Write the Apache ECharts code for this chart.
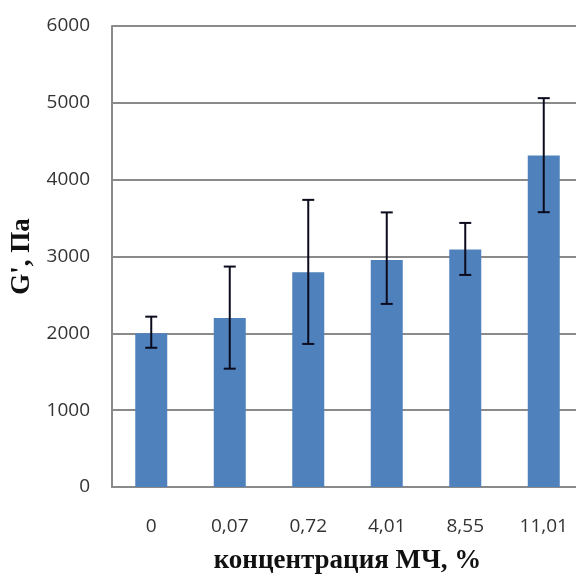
<!DOCTYPE html>
<html>
<head>
<meta charset="utf-8">
<script src="https://cdn.jsdelivr.net/npm/echarts@6/dist/echarts.min.js"></script>
<style>
  html, body { margin: 0; padding: 0; background: #fff; }
  #container { width: 576px; height: 583px; }
</style>
</head>
<body>
<div id="container"></div>
<script>
const categories = ['0', '0,07', '0,72', '4,01', '8,55', '11,01']
const values = [2000, 2200, 2795, 2955, 3090, 4315]
const errLow = [1812, 1540, 1862, 2383, 2760, 3577]
const errHigh = [2217, 2869, 3737, 3574, 3437, 5061]
const yTicks = [0, 1000, 2000, 3000, 4000, 5000, 6000]

const myChart = echarts.init(document.getElementById('container'))

const titleFont = {
    fontFamily: 'Liberation Serif',
    fontWeight: 'bold',
    fontSize: 27,
    color: '#111'
}

const option = {
    backgroundColor: '#fff',
    animation: false,
    grid: {
        left: 112,
        right: -7,
        top: 26,
        bottom: 96,
        outerBoundsMode: 'none',
        containLabel: false
    },
    xAxis: {
        type: 'category',
        data: categories,
        name: 'концентрация МЧ, %',
        nameLocation: 'middle',
        nameGap: 61,
        nameTextStyle: titleFont,
        axisLine: { lineStyle: { color: '#8a8a8a', width: 2 } },
        axisTick: { show: false },
        axisLabel: {
            fontFamily: 'Open Sans',
            fontSize: 19,
            color: '#333',
            margin: 30
        }
    },
    yAxis: {
        type: 'value',
        min: yTicks[0],
        max: yTicks[yTicks.length - 1],
        interval: 1000,
        name: "G', Па",
        nameLocation: 'middle',
        nameGap: 76,
        nameTextStyle: titleFont,
        axisLine: { show: true, lineStyle: { color: '#8a8a8a', width: 2 } },
        axisTick: { show: false },
        axisLabel: {
            fontFamily: 'Open Sans',
            fontSize: 19,
            color: '#333',
            margin: 22,
            formatter: v => String(v)
        },
        splitLine: {
            show: true,
            lineStyle: { color: '#8a8a8a', width: 2 }
        }
    },
    series: [
        {
            type: 'bar',
            data: values,
            barWidth: 32,
            itemStyle: { color: '#4f81bd' },
            z: 2
        },
        {
            type: 'custom',
            z: 3,
            data: categories.map((c, i) => [i, errLow[i], errHigh[i]]),
            renderItem: (params, api) => {
                const x = api.value(0)
                const lo = api.coord([x, api.value(1)])
                const hi = api.coord([x, api.value(2)])
                const cap = 6
                const style = { stroke: '#0b0b1e', lineWidth: 2 }
                return {
                    type: 'group',
                    children: [
                        { type: 'line', shape: { x1: lo[0], y1: lo[1], x2: hi[0], y2: hi[1] }, style },
                        { type: 'line', shape: { x1: lo[0] - cap, y1: lo[1], x2: lo[0] + cap, y2: lo[1] }, style },
                        { type: 'line', shape: { x1: hi[0] - cap, y1: hi[1], x2: hi[0] + cap, y2: hi[1] }, style }
                    ]
                }
            }
        }
    ]
}

myChart.setOption(option)
</script>
</body>
</html>
